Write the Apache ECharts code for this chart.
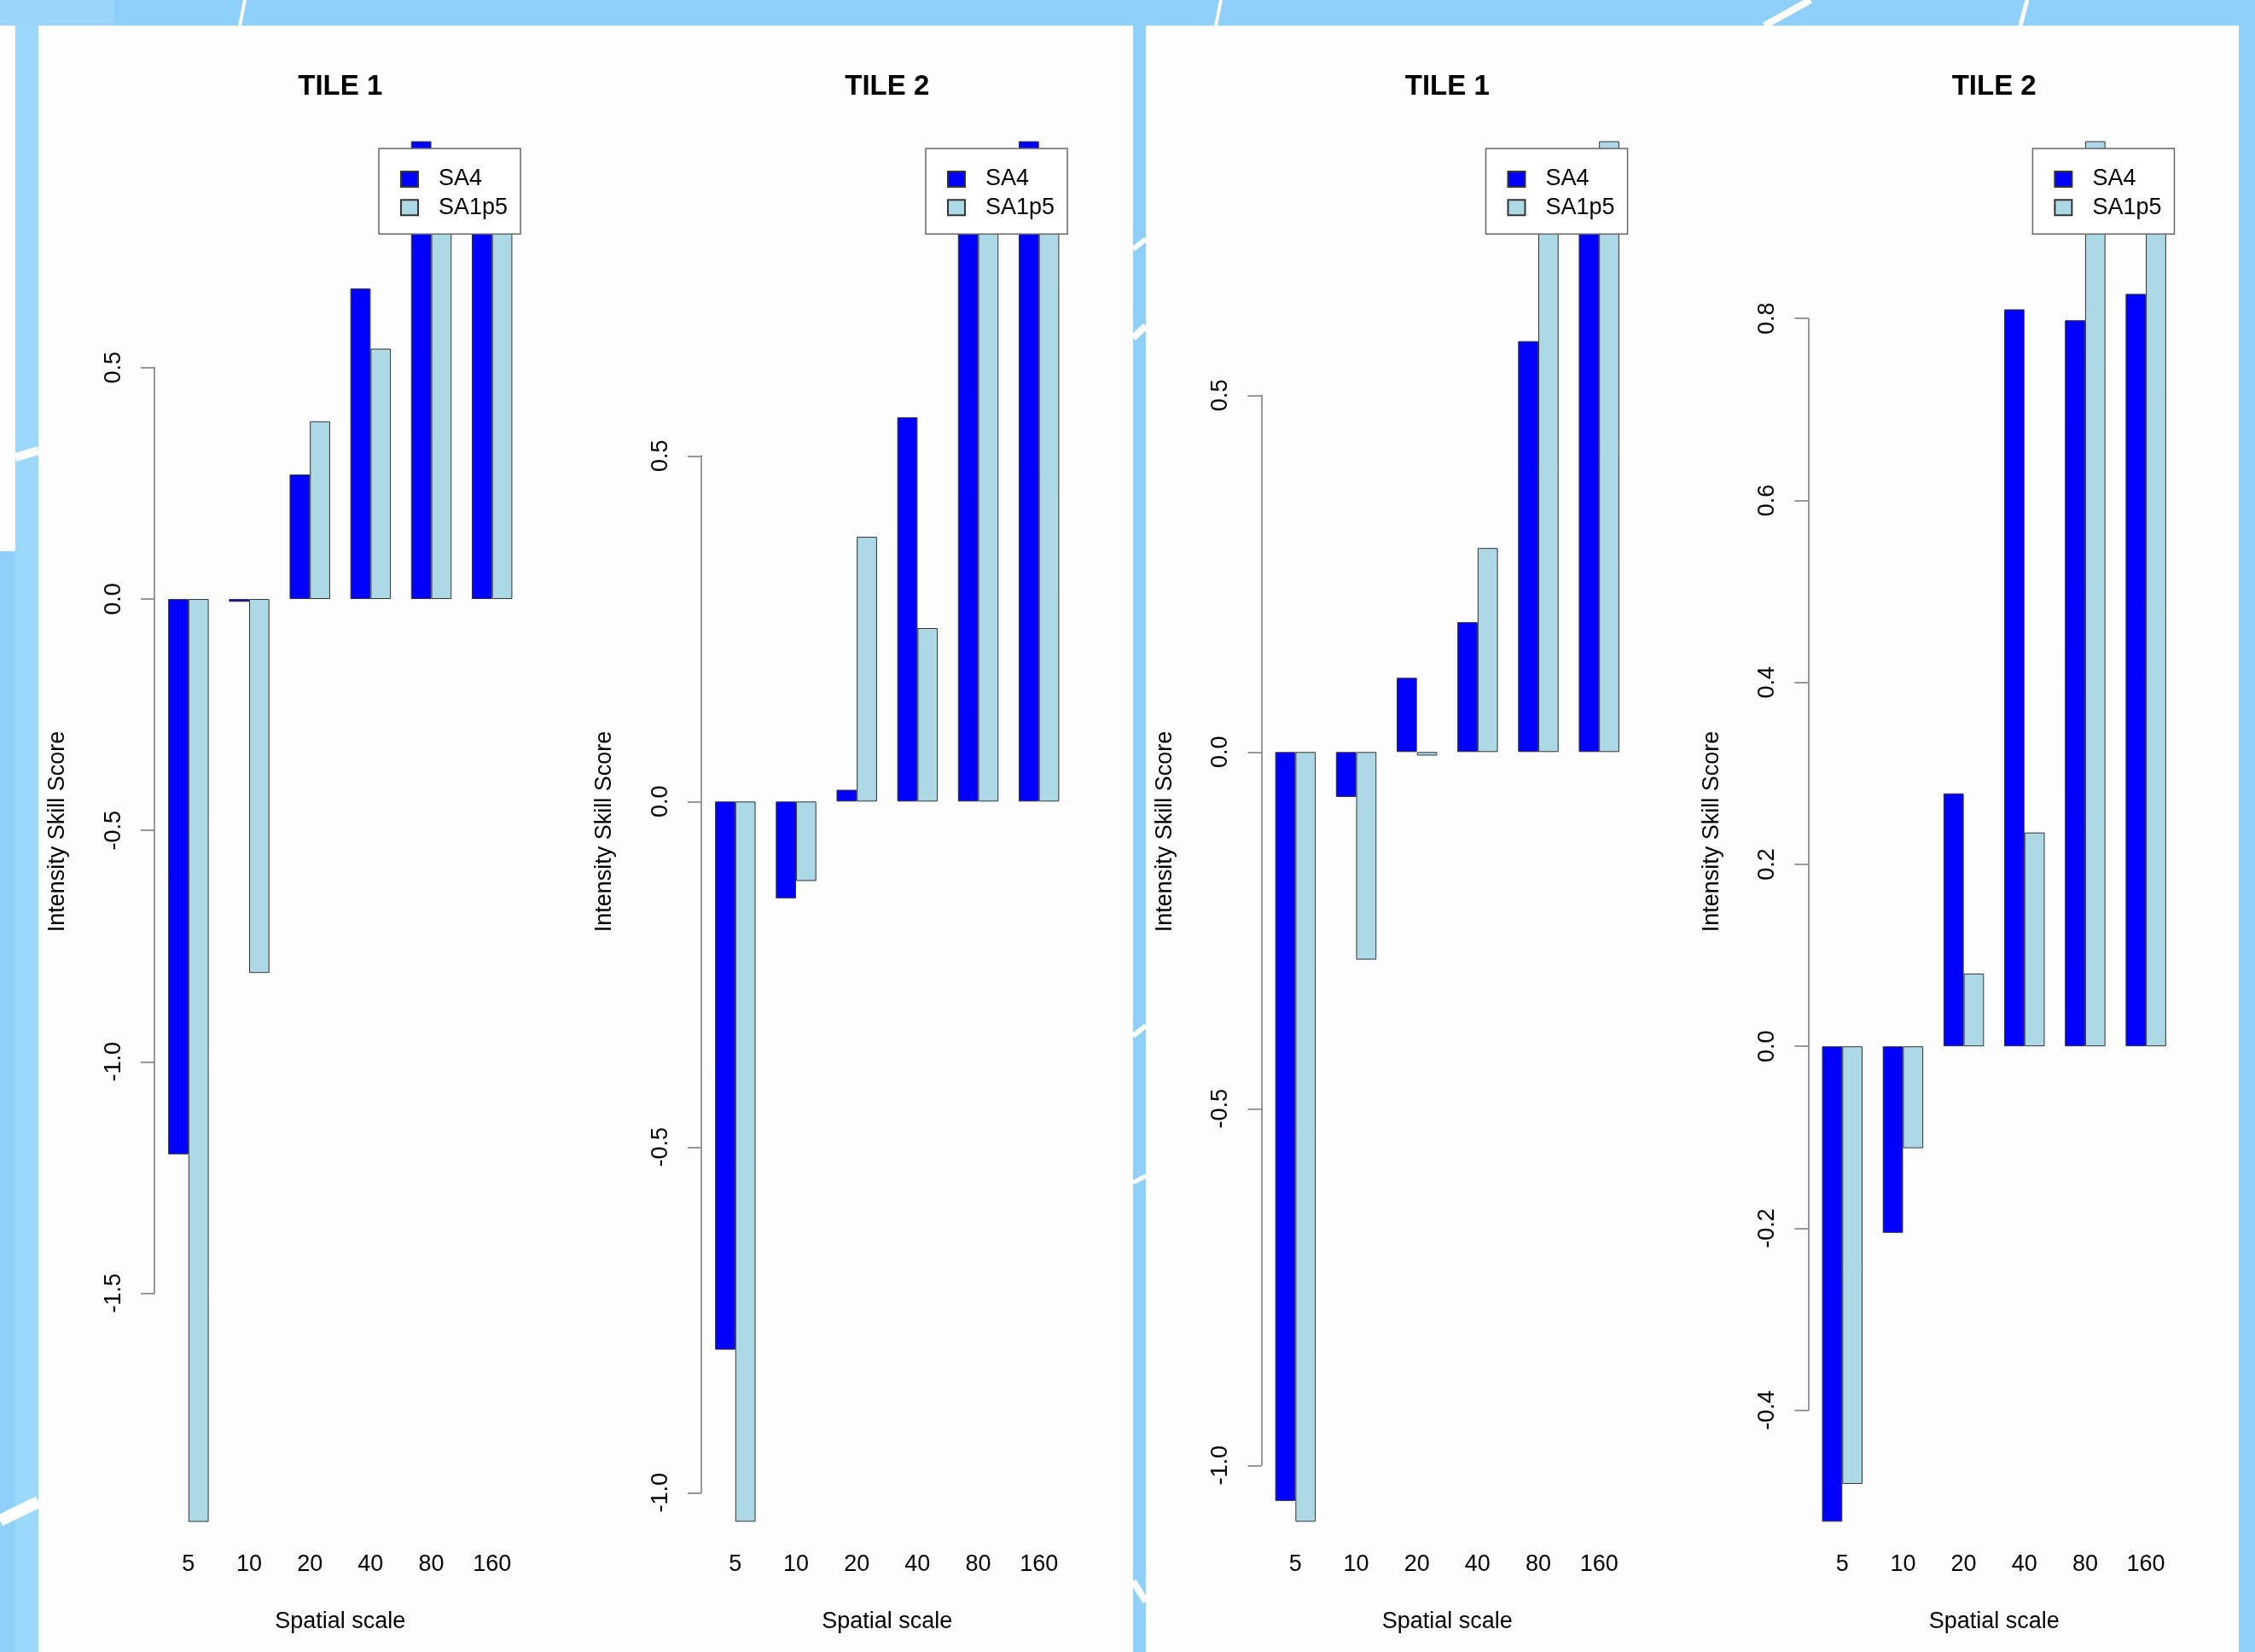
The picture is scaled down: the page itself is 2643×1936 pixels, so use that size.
<!DOCTYPE html>
<html>
<head>
<meta charset="utf-8">
<script src="https://cdn.jsdelivr.net/npm/echarts@6/dist/echarts.min.js"></script>
<style>
html,body{margin:0;padding:0;background:#8ED0F8;}
#c{width:2643px;height:1936px;}
</style>
</head>
<body>
<div id="c"></div>
<script>
// ---------------- DATA ----------------
const categories = ['5', '10', '20', '40', '80', '160'];
const seriesNames = ['SA4', 'SA1p5'];
const panelTitles = ['TILE 1', 'TILE 2', 'TILE 1', 'TILE 2'];
const xAxisTitle = 'Spatial scale';
const yAxisTitle = 'Intensity Skill Score';

const tile1LeftSA4    = [-1.200, -0.006, 0.269, 0.671, 1.050, 0.880];
const tile1LeftSA1p5  = [-1.995, -0.808, 0.384, 0.541, 0.900, 0.900];
const tile2LeftSA4    = [-0.793, -0.140, 0.017, 0.556, 0.900, 1.000];
const tile2LeftSA1p5  = [-1.042, -0.115, 0.383, 0.251, 0.880, 0.900];
const tile1RightSA4   = [-1.050, -0.063, 0.104, 0.182, 0.576, 0.800];
const tile1RightSA1p5 = [-1.079, -0.291, -0.005, 0.286, 0.800, 0.950];
const tile2RightSA4   = [-0.5225, -0.205, 0.278, 0.810, 0.798, 0.827];
const tile2RightSA1p5 = [-0.481, -0.112, 0.080, 0.235, 1.050, 0.950];

// y tick labels (first tick, last tick, step) and visible value range of each plot
const yTickMin  = [-1.5, -1.0, -1.0, -0.4];
const yTickMax  = [0.5, 0.5, 0.5, 0.8];
const yTickStep = [0.5, 0.5, 0.5, 0.2];
const yRangeMin = [-1.9934, -1.0416, -1.0786, -0.5222];
const yRangeMax = [0.9884, 0.9547, 0.8556, 0.9943];

const plotValues = [
  [tile1LeftSA4, tile1LeftSA1p5],
  [tile2LeftSA4, tile2LeftSA1p5],
  [tile1RightSA4, tile1RightSA1p5],
  [tile2RightSA4, tile2RightSA1p5]
];

// ---------------- LAYOUT / STYLE ----------------
const FONT = '"Liberation Sans", Arial, Helvetica, sans-serif';
const plotLeft = [181, 822, 1478.5, 2119.4];
const GRID_TOP = 166, GRID_BOTTOM = 1783;
const BAND_W = 71.17, N = categories.length;
const barColors = ['#0000FF', '#ADD8E6'];
const AXIS_COLOR = '#777';

const chart = echarts.init(document.getElementById('c'), null, {renderer: 'canvas'});

const grid = [], xAxis = [], yAxis = [], series = [], legend = [], title = [];

plotLeft.forEach((L, i) => {
  const yMin = yRangeMin[i], yMax = yRangeMax[i];
  const H = GRID_BOTTOM - GRID_TOP;
  const pix = v => GRID_TOP + (yMax - v) / (yMax - yMin) * H;
  const aTop = pix(yTickMax[i]);
  const aBot = pix(yTickMin[i]);

  // bar grid (= R plot region)
  grid.push({left: L + 4.27, top: GRID_TOP, width: BAND_W * N, height: H, outerBoundsMode: 'none', containLabel: false});
  // axis grid (R-style axis spanning only the tick range)
  grid.push({left: L, top: aTop, width: 2, height: aBot - aTop, outerBoundsMode: 'none', containLabel: false});

  xAxis.push({
    gridIndex: 2 * i, type: 'category', data: categories,
    axisLine: {show: false, onZero: false}, axisTick: {show: false}, splitLine: {show: false},
    axisLabel: {interval: 0, margin: 37, fontSize: 27, color: '#000', fontFamily: FONT},
    name: xAxisTitle, nameLocation: 'middle', nameGap: 104,
    nameTextStyle: {fontSize: 27, color: '#000', fontFamily: FONT}
  });
  xAxis.push({gridIndex: 2 * i + 1, type: 'value', show: false, min: 0, max: 1});

  // hidden value axis of the bar grid; only carries the axis title (centred on plot region)
  yAxis.push({
    gridIndex: 2 * i, type: 'value', min: yMin, max: yMax,
    axisLine: {show: false, onZero: false}, axisTick: {show: false}, axisLabel: {show: false},
    splitLine: {show: false},
    name: yAxisTitle, nameLocation: 'middle', nameRotate: 90, nameGap: 104,
    nameTextStyle: {fontSize: 27, color: '#000', fontFamily: FONT}
  });
  yAxis.push({
    gridIndex: 2 * i + 1, type: 'value',
    min: yTickMin[i], max: yTickMax[i], interval: yTickStep[i],
    axisLine: {show: true, onZero: false, lineStyle: {color: AXIS_COLOR, width: 1.5}},
    axisTick: {show: true, inside: false, length: 16, lineStyle: {color: AXIS_COLOR, width: 1.5}},
    splitLine: {show: false},
    axisLabel: {rotate: 90, margin: 34, fontSize: 27, color: '#000', fontFamily: FONT,
      formatter: v => (Math.abs(v) < 1e-9 ? 0 : v).toFixed(1)}
  });

  plotValues[i].forEach((vals, s) => {
    series.push({
      type: 'bar', name: seriesNames[s], data: vals,
      xAxisIndex: 2 * i, yAxisIndex: 2 * i,
      barWidth: '33.333%', barGap: '0%', clip: true,
      itemStyle: {color: barColors[s], borderColor: '#333', borderWidth: 1},
      emphasis: {disabled: true}, animation: false
    });
  });

  legend.push({
    left: L + 263, top: 174, orient: 'vertical', data: seriesNames,
    icon: 'rect', itemWidth: 20, itemHeight: 18, itemGap: 6.3,
    padding: [22.5, 15, 17.5, 25], backgroundColor: '#fff',
    borderColor: '#666', borderWidth: 1.5, borderRadius: 0,
    selectedMode: false,
    textStyle: {fontSize: 27, color: '#000', fontFamily: FONT, padding: [0, 0, 0, 19]}
  });

  title.push({
    text: panelTitles[i], left: L + 217.75, top: 85, textAlign: 'center', padding: 0,
    textStyle: {fontSize: 33, fontWeight: 'bold', color: '#000', fontFamily: FONT}
  });
});

// background decoration (panels and white streaks)
const deco = [
  {type: 'rect', shape: {x: 18, y: 30, width: 27, height: 1906}, style: {fill: '#9CD8F9'}},
  {type: 'rect', shape: {x: 0, y: 0, width: 134, height: 30}, style: {fill: '#9BD6F8'}},
  {type: 'rect', shape: {x: 0, y: 30, width: 18, height: 616}, style: {fill: '#FDFDFD'}},
  {type: 'rect', shape: {x: 45, y: 30, width: 1283, height: 1906}, style: {fill: '#FDFDFD'}},
  {type: 'rect', shape: {x: 1343, y: 30, width: 1281, height: 1906}, style: {fill: '#FDFDFD'}},
  {type: 'line', shape: {x1: 287, y1: 0, x2: 281, y2: 30}, style: {stroke: '#fff', lineWidth: 4}},
  {type: 'line', shape: {x1: 1431, y1: 0, x2: 1425, y2: 30}, style: {stroke: '#fff', lineWidth: 4}},
  {type: 'line', shape: {x1: 2122, y1: 0, x2: 2068, y2: 30}, style: {stroke: '#fff', lineWidth: 8}},
  {type: 'line', shape: {x1: 2376, y1: 0, x2: 2368, y2: 30}, style: {stroke: '#fff', lineWidth: 5}},
  {type: 'line', shape: {x1: 18, y1: 536, x2: 45, y2: 528}, style: {stroke: '#fff', lineWidth: 10}},
  {type: 'line', shape: {x1: 0, y1: 1782, x2: 45, y2: 1760}, style: {stroke: '#fff', lineWidth: 14}},
  {type: 'line', shape: {x1: 1328, y1: 292, x2: 1343, y2: 280}, style: {stroke: '#fff', lineWidth: 6}},
  {type: 'line', shape: {x1: 1328, y1: 396, x2: 1343, y2: 382}, style: {stroke: '#fff', lineWidth: 8}},
  {type: 'line', shape: {x1: 1328, y1: 1214, x2: 1343, y2: 1202}, style: {stroke: '#fff', lineWidth: 6}},
  {type: 'line', shape: {x1: 1328, y1: 1386, x2: 1343, y2: 1378}, style: {stroke: '#fff', lineWidth: 5}},
  {type: 'line', shape: {x1: 1328, y1: 1853, x2: 1343, y2: 1877}, style: {stroke: '#fff', lineWidth: 8}}
].map(e => Object.assign({z: -10, silent: true}, e));

chart.setOption({
  backgroundColor: '#8ED0F8',
  animation: false,
  textStyle: {fontFamily: FONT},
  graphic: {elements: deco},
  title, legend, grid, xAxis, yAxis, series
});
</script>
</body>
</html>
